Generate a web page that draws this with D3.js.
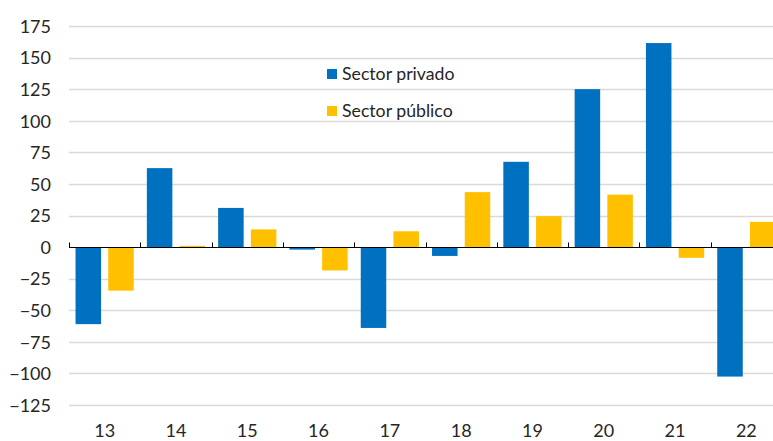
<!DOCTYPE html>
<html lang="es">
<head>
    <meta charset="UTF-8">
    <title>Sector privado / Sector público</title>
    <script src="https://d3js.org/d3.v7.min.js"></script>
    <style>
        body { margin: 0; background: #fff; }
        text { font-family: Lato, "Open Sans", sans-serif; fill: #262626; }
    </style>
</head>
<body>
<div id="grafico"></div>
<script>
    // ---------------- datos ----------------
    var anios = ["13", "14", "15", "16", "17", "18", "19", "20", "21", "22"];
    var privado = [-61, 62.5, 31, -2, -64, -7, 67.5, 125, 161.5, -102.5];
    var publico = [-34.5, 1, 14, -18.5, 12.5, 43.5, 24.5, 41.5, -8.5, 20];
    var series = ["Sector privado", "Sector público"];
    var colores = ["#0070c0", "#ffc000"];
    var ticksY = [-125, -100, -75, -50, -25, 0, 25, 50, 75, 100, 125, 150, 175];

    // ---------------- dimensiones ----------------
    var W = 773, H = 441;
    var m = { left: 69, top: 26, right: -9, bottom: 36 };

    var svg = d3.select("#grafico").append("svg").attr("width", W).attr("height", H);

    var x = d3.scaleBand().domain(anios).range([m.left, W - m.right]).paddingInner(0).paddingOuter(0);
    var x2 = d3.scaleBand().domain([0, 1]).range([0, x.bandwidth()]).paddingInner(0.22).paddingOuter(0.2);
    var y = d3.scaleLinear().domain([-125, 175]).range([H - m.bottom, m.top]);

    // lineas de la grilla
    svg.append("g")
        .selectAll("line").data(ticksY.filter(d => d != 0)).join("line")
        .attr("x1", m.left).attr("x2", W)
        .attr("y1", d => Math.round(y(d)) + 0.5).attr("y2", d => Math.round(y(d)) + 0.5)
        .attr("stroke", "#d9d9d9").attr("stroke-width", 1.3);

    // eje y
    var ejeY = d3.axisLeft(y).tickValues(ticksY).tickSize(0).tickPadding(18);
    svg.append("g").attr("transform", "translate(" + m.left + ",0)").call(ejeY)
        .call(g => g.select(".domain").remove())
        .selectAll("text").style("font-size", "18px").attr("dy", "0.35em");

    // barras
    var datos = anios.map((a, i) => ({ anio: a, vals: [privado[i], publico[i]] }));
    var grupos = svg.append("g").selectAll("g").data(datos).join("g")
        .attr("transform", d => "translate(" + x(d.anio) + ",0)");
    grupos.selectAll("rect").data(d => d.vals.map((v, k) => ({ v: v, k: k }))).join("rect")
        .attr("x", d => x2(d.k))
        .attr("width", x2.bandwidth())
        .attr("y", d => y(Math.max(0, d.v)))
        .attr("height", d => Math.max(1, Math.abs(y(d.v) - y(0))))
        .attr("fill", d => colores[d.k]);

    // eje x (linea cero + marcas hacia arriba)
    var y0 = Math.round(y(0)) + 0.5;
    svg.append("line").attr("x1", m.left).attr("x2", W).attr("y1", y0).attr("y2", y0)
        .attr("stroke", "#000").attr("stroke-width", 1);
    svg.append("g").selectAll("line").data(anios).join("line")
        .attr("x1", d => Math.round(x(d)) + 0.5).attr("x2", d => Math.round(x(d)) + 0.5)
        .attr("y1", y0).attr("y2", y0 - 5)
        .attr("stroke", "#000").attr("stroke-width", 1);

    // etiquetas de anios
    svg.append("g").selectAll("text").data(anios).join("text")
        .attr("x", d => x(d) + x.bandwidth() / 2)
        .attr("y", H - 4)
        .attr("text-anchor", "middle")
        .style("font-size", "18px")
        .text(d => d);

    // leyenda
    var ley = svg.append("g").attr("transform", "translate(327,0)");
    series.forEach(function(s, i) {
        var yy = 74 + i * 37;
        ley.append("rect").attr("x", 0).attr("y", yy - 5).attr("width", 10).attr("height", 10).attr("fill", colores[i]);
        ley.append("text").attr("x", 15).attr("y", yy).attr("dy", "0.35em")
            .style("font-size", "17.7px").text(s);
    });
</script>
</body>
</html>
